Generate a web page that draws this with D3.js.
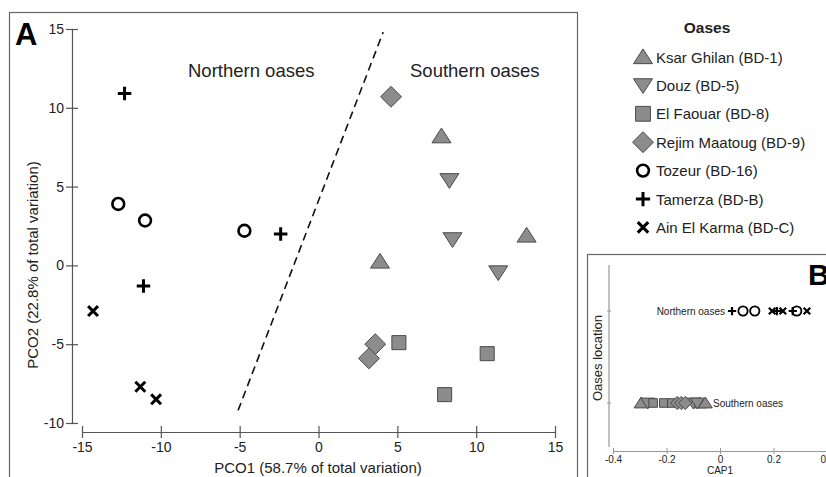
<!DOCTYPE html>
<html>
<head>
<meta charset="utf-8">
<script src="https://cdn.jsdelivr.net/npm/d3@7/dist/d3.min.js"></script>
<style>
  body { margin: 0; background: #fff; }
  svg { font-family: "Liberation Sans", Arial, sans-serif; }
</style>
</head>
<body>
<svg id="chart" width="826" height="477"></svg>
<script>
// oases (legend order)
var oases = ["Ksar Ghilan (BD-1)", "Douz (BD-5)", "El Faouar (BD-8)", "Rejim Maatoug (BD-9)",
             "Tozeur (BD-16)", "Tamerza (BD-B)", "Ain El Karma (BD-C)"];
var shapes = ["up", "down", "square", "diamond", "circle", "plus", "cross"];
var region = ["Southern", "Southern", "Southern", "Southern", "Northern", "Northern", "Northern"];

// panel A: PCO scores, three samples per oasis
var pco1 = [[7.8, 13.2, 3.9], [8.3, 8.5, 11.4], [5.1, 10.7, 8.0], [4.6, 3.6, 3.2],
            [-12.7, -11.0, -4.7], [-12.3, -2.4, -11.1], [-14.3, -11.3, -10.3]];
var pco2 = [[8.2, 1.9, 0.25], [5.4, 1.65, -0.45], [-4.9, -5.6, -8.2], [10.7, -5.0, -5.9],
            [3.9, 2.85, 2.2], [10.9, 2.0, -1.3], [-2.9, -7.7, -8.5]];

// separating line (PCO1, PCO2)
var divider = [[-5.1, -9.2], [4.1, 14.8]];

// panel B: CAP1 scores
var cap1 = [[-0.295, -0.075, -0.055], [-0.27, -0.1, -0.085], [-0.25, -0.21, -0.18], [-0.16, -0.145, -0.13],
            [0.086, 0.13, 0.287], [0.045, 0.213, 0.272], [0.195, 0.235, 0.325]];
var locations = ["Northern oases", "Southern oases"];

var xTicksA = [-15, -10, -5, 0, 5, 10, 15];
var yTicksA = [-10, -5, 0, 5, 10, 15];
var xTicksB = [-0.4, -0.2, 0, 0.2, 0.4];

var svg = d3.select("#chart");
var fillGray = "#8c8c8c", strokeGray = "#4a4a4a", axisCol = "#555";
var plain = function(d) { return String(d); };

// marker path, centred on 0,0
function shapePath(type, s) {
  var h = s / 2;
  if (type == "up") return "M0," + (-h * 0.85) + "L" + h + "," + (h * 0.7) + "L" + (-h) + "," + (h * 0.7) + "Z";
  if (type == "down") return "M0," + (h * 0.85) + "L" + h + "," + (-h * 0.7) + "L" + (-h) + "," + (-h * 0.7) + "Z";
  if (type == "square") { var q = h * 0.78; return "M" + (-q) + "," + (-q) + "H" + q + "V" + q + "H" + (-q) + "Z"; }
  if (type == "diamond") { var d = h * 1.1; return "M0," + (-d) + "L" + d + ",0L0," + d + "L" + (-d) + ",0Z"; }
  if (type == "circle") { var r = h * 0.62; return "M" + r + ",0A" + r + "," + r + " 0 1,1 " + (-r) + ",0A" + r + "," + r + " 0 1,1 " + r + ",0"; }
  if (type == "plus") { var p = h * 0.75; return "M" + (-p) + ",0H" + p + "M0," + (-p) + "V" + p; }
  var c = h * 0.55;
  return "M" + (-c) + "," + (-c) + "L" + c + "," + c + "M" + c + "," + (-c) + "L" + (-c) + "," + c;
}
function styleMarker(sel, type, sw) {
  if (type == "circle") sel.attr("fill", "none").attr("stroke", "#000").attr("stroke-width", sw);
  else if (type == "plus" || type == "cross") sel.attr("fill", "none").attr("stroke", "#000").attr("stroke-width", sw + 0.4);
  else sel.attr("fill", fillGray).attr("stroke", strokeGray).attr("stroke-width", 1);
}

// ---------- panel A ----------
svg.append("rect").attr("x", 9.5).attr("y", 12.5).attr("width", 568).attr("height", 480)
  .attr("fill", "none").attr("stroke", "#666").attr("stroke-width", 1.2);

var x = d3.scaleLinear().domain([-15, 15]).range([82, 555]);
var y = d3.scaleLinear().domain([-10, 15]).range([423, 29]);

var gx = svg.append("g").attr("transform", "translate(0,432)")
  .call(d3.axisBottom(x).tickValues(xTicksA).tickFormat(plain).tickSize(6).tickSizeOuter(0));
gx.selectAll(".tick line").attr("y1", -6).attr("y2", 6);
gx.selectAll(".tick text").attr("y", 10).attr("dy", "0.71em");

var gy = svg.append("g").attr("transform", "translate(72,0)")
  .call(d3.axisLeft(y).tickValues(yTicksA).tickFormat(plain).tickSize(6).tickSizeOuter(0));
gy.selectAll(".tick line").attr("x1", -6).attr("x2", 6);
gy.selectAll(".tick text").attr("x", -8);

[gx, gy].forEach(function(g) {
  g.select(".domain").attr("stroke", axisCol).attr("stroke-width", 1.2);
  g.selectAll(".tick line").attr("stroke", axisCol).attr("stroke-width", 1.2);
  g.selectAll(".tick text").attr("font-size", 14).attr("fill", "#222")
    .style("font-family", "Liberation Sans, Arial, sans-serif");
});

svg.append("text").attr("x", 318).attr("y", 473).attr("text-anchor", "middle")
  .attr("font-size", 15).attr("fill", "#222").text("PCO1 (58.7% of total variation)");
svg.append("text").attr("transform", "translate(38,265) rotate(-90)").attr("text-anchor", "middle")
  .attr("font-size", 15).attr("fill", "#222").text("PCO2 (22.8% of total variation)");

svg.append("text").attr("x", 15).attr("y", 45).attr("font-size", 31).attr("font-weight", "bold").text("A");

svg.append("line")
  .attr("x1", x(divider[0][0])).attr("y1", y(divider[0][1]))
  .attr("x2", x(divider[1][0])).attr("y2", y(divider[1][1]))
  .attr("stroke", "#111").attr("stroke-width", 1.6).attr("stroke-dasharray", "8,5");

svg.append("text").attr("x", 188).attr("y", 77).attr("font-size", 18.5).attr("fill", "#222").text("Northern oases");
svg.append("text").attr("x", 410).attr("y", 77).attr("font-size", 18.5).attr("fill", "#222").text("Southern oases");

var sizesA = {up: 19, down: 19, square: 18, diamond: 19, circle: 19, plus: 18, cross: 18};
oases.forEach(function(name, i) {
  var t = shapes[i];
  pco1[i].forEach(function(v, j) {
    var p = svg.append("path").attr("d", shapePath(t, sizesA[t]))
      .attr("transform", "translate(" + x(v) + "," + y(pco2[i][j]) + ")");
    styleMarker(p, t, 2.6);
  });
});

// legend
svg.append("text").attr("x", 707).attr("y", 33).attr("text-anchor", "middle")
  .attr("font-size", 15.5).attr("font-weight", "bold").attr("fill", "#222").text("Oases");
oases.forEach(function(name, i) {
  var ly = 57 + i * 28.4;
  var p = svg.append("path").attr("d", shapePath(shapes[i], 19))
    .attr("transform", "translate(643," + ly + ")");
  styleMarker(p, shapes[i], 2.6);
  svg.append("text").attr("x", 656).attr("y", ly + 5.5).attr("font-size", 15)
    .attr("fill", "#222").text(name);
});

// ---------- panel B ----------
svg.append("rect").attr("x", 587.5).attr("y", 254.5).attr("width", 260).attr("height", 240)
  .attr("fill", "none").attr("stroke", "#666").attr("stroke-width", 1.2);

var xb = d3.scaleLinear().domain([-0.4, 0.4]).range([613, 827]);
var yb = d3.scalePoint().domain(locations).range([311, 403]);

var gxb = svg.append("g").attr("transform", "translate(0,451)")
  .call(d3.axisBottom(xb).tickValues(xTicksB).tickSize(3).tickSizeOuter(0).tickFormat(plain));
gxb.selectAll(".tick line").attr("y1", -3).attr("y2", 3);
gxb.select(".domain").attr("stroke", "#999").attr("stroke-width", 1.2);
gxb.selectAll(".tick line").attr("stroke", "#999");
gxb.selectAll(".tick text").attr("font-size", 10).attr("fill", "#222").attr("y", 5)
  .style("font-family", "Liberation Sans, Arial, sans-serif");

svg.append("line").attr("x1", 609).attr("x2", 609).attr("y1", 265).attr("y2", 447)
  .attr("stroke", "#999").attr("stroke-width", 1.2);
locations.forEach(function(l) {
  svg.append("line").attr("x1", 607).attr("x2", 611).attr("y1", yb(l)).attr("y2", yb(l))
    .attr("stroke", "#999");
});

svg.append("text").attr("x", 720).attr("y", 474).attr("text-anchor", "middle")
  .attr("font-size", 10).attr("fill", "#222").text("CAP1");
svg.append("text").attr("transform", "translate(602,358) rotate(-90)").attr("text-anchor", "middle")
  .attr("font-size", 13).attr("fill", "#222").text("Oases location");
svg.append("text").attr("x", 808).attr("y", 285).attr("font-size", 30).attr("font-weight", "bold").text("B");

svg.append("text").attr("x", 725).attr("y", yb("Northern oases") + 3.5).attr("text-anchor", "end")
  .attr("font-size", 10).attr("fill", "#222").text("Northern oases");
svg.append("text").attr("x", 713).attr("y", yb("Southern oases") + 3.5)
  .attr("font-size", 10).attr("fill", "#222").text("Southern oases");

var sizesB = {up: 14, down: 14, square: 11, diamond: 12, circle: 15, plus: 11, cross: 12};
oases.forEach(function(name, i) {
  var t = shapes[i];
  var row = region[i] + " oases";
  cap1[i].forEach(function(v) {
    var p = svg.append("path").attr("d", shapePath(t, sizesB[t]))
      .attr("transform", "translate(" + xb(v) + "," + yb(row) + ")");
    styleMarker(p, t, 1.8);
  });
});
</script>
</body>
</html>
